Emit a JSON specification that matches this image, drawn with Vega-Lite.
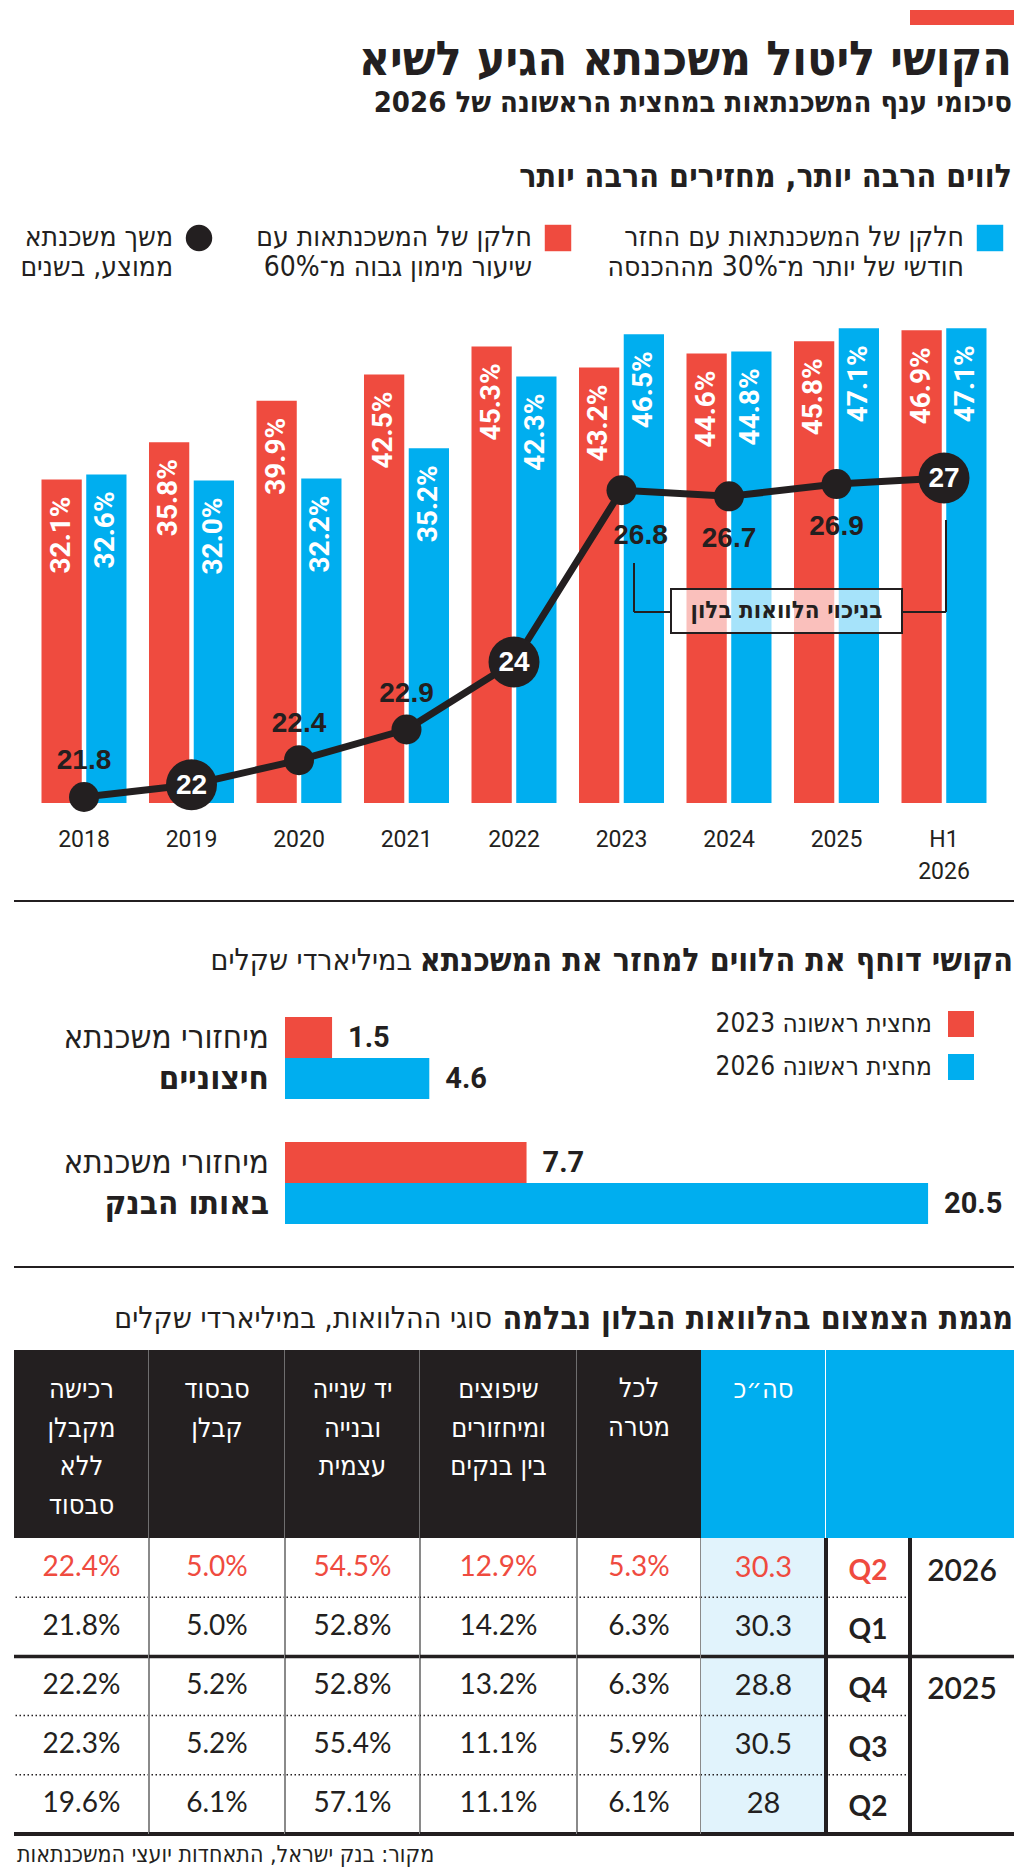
{
"$schema": "https://vega.github.io/schema/vega-lite/v6.json",
"background": "white",
"padding": {"left": 12, "top": 10, "right": 0, "bottom": 0},
"autosize": {"type": "pad"},
"spacing": 0,
"bounds": "flush",
"resolve": {"scale": {"color": "independent", "shape": "independent"}, "legend": {"color": "independent", "shape": "independent"}},
"config": {"view": {"stroke": null}, "axis": {"grid": false}},
"datasets": {
 "shares": [
  {"year": "2018", "series": "חלקן של המשכנתאות עם\nשיעור מימון גבוה מ־60%", "pct": 0.321},
  {"year": "2018", "series": "חלקן של המשכנתאות עם החזר\nחודשי של יותר מ־30% מההכנסה", "pct": 0.326},
  {"year": "2019", "series": "חלקן של המשכנתאות עם\nשיעור מימון גבוה מ־60%", "pct": 0.358},
  {"year": "2019", "series": "חלקן של המשכנתאות עם החזר\nחודשי של יותר מ־30% מההכנסה", "pct": 0.320},
  {"year": "2020", "series": "חלקן של המשכנתאות עם\nשיעור מימון גבוה מ־60%", "pct": 0.399},
  {"year": "2020", "series": "חלקן של המשכנתאות עם החזר\nחודשי של יותר מ־30% מההכנסה", "pct": 0.322},
  {"year": "2021", "series": "חלקן של המשכנתאות עם\nשיעור מימון גבוה מ־60%", "pct": 0.425},
  {"year": "2021", "series": "חלקן של המשכנתאות עם החזר\nחודשי של יותר מ־30% מההכנסה", "pct": 0.352},
  {"year": "2022", "series": "חלקן של המשכנתאות עם\nשיעור מימון גבוה מ־60%", "pct": 0.453},
  {"year": "2022", "series": "חלקן של המשכנתאות עם החזר\nחודשי של יותר מ־30% מההכנסה", "pct": 0.423},
  {"year": "2023", "series": "חלקן של המשכנתאות עם\nשיעור מימון גבוה מ־60%", "pct": 0.432},
  {"year": "2023", "series": "חלקן של המשכנתאות עם החזר\nחודשי של יותר מ־30% מההכנסה", "pct": 0.465},
  {"year": "2024", "series": "חלקן של המשכנתאות עם\nשיעור מימון גבוה מ־60%", "pct": 0.446},
  {"year": "2024", "series": "חלקן של המשכנתאות עם החזר\nחודשי של יותר מ־30% מההכנסה", "pct": 0.448},
  {"year": "2025", "series": "חלקן של המשכנתאות עם\nשיעור מימון גבוה מ־60%", "pct": 0.458},
  {"year": "2025", "series": "חלקן של המשכנתאות עם החזר\nחודשי של יותר מ־30% מההכנסה", "pct": 0.471},
  {"year": "H1 2026", "series": "חלקן של המשכנתאות עם\nשיעור מימון גבוה מ־60%", "pct": 0.469},
  {"year": "H1 2026", "series": "חלקן של המשכנתאות עם החזר\nחודשי של יותר מ־30% מההכנסה", "pct": 0.471}
 ],
 "dur": [
  {"year": "2018", "dur": 21.8, "measure": "משך משכנתא\nממוצע, בשנים"},
  {"year": "2019", "dur": 22, "measure": "משך משכנתא\nממוצע, בשנים"},
  {"year": "2020", "dur": 22.4, "measure": "משך משכנתא\nממוצע, בשנים"},
  {"year": "2021", "dur": 22.9, "measure": "משך משכנתא\nממוצע, בשנים"},
  {"year": "2022", "dur": 24, "measure": "משך משכנתא\nממוצע, בשנים"},
  {"year": "2023", "dur": 26.8, "measure": "משך משכנתא\nממוצע, בשנים"},
  {"year": "2024", "dur": 26.7, "measure": "משך משכנתא\nממוצע, בשנים"},
  {"year": "2025", "dur": 26.9, "measure": "משך משכנתא\nממוצע, בשנים"},
  {"year": "H1 2026", "dur": 27, "measure": "משך משכנתא\nממוצע, בשנים"}
 ],
 "refi": [
  {"kind": "חיצוניים", "period": "מחצית ראשונה 2023", "value": 1.5},
  {"kind": "חיצוניים", "period": "מחצית ראשונה 2026", "value": 4.6},
  {"kind": "באותו הבנק", "period": "מחצית ראשונה 2023", "value": 7.7},
  {"kind": "באותו הבנק", "period": "מחצית ראשונה 2026", "value": 20.5}
 ],
 "table": [
  {"period": "2026 Q2", "year": 2026, "q": "Q2", "total": 30.3, "c5": 0.053, "c4": 0.129, "c3": 0.545, "c2": 0.050, "c1": 0.224},
  {"period": "2026 Q1", "year": 2026, "q": "Q1", "total": 30.3, "c5": 0.063, "c4": 0.142, "c3": 0.528, "c2": 0.050, "c1": 0.218},
  {"period": "2025 Q4", "year": 2025, "q": "Q4", "total": 28.8, "c5": 0.063, "c4": 0.132, "c3": 0.528, "c2": 0.052, "c1": 0.222},
  {"period": "2025 Q3", "year": 2025, "q": "Q3", "total": 30.5, "c5": 0.059, "c4": 0.111, "c3": 0.554, "c2": 0.052, "c1": 0.223},
  {"period": "2025 Q2", "year": 2025, "q": "Q2", "total": 28, "c5": 0.061, "c4": 0.111, "c3": 0.571, "c2": 0.061, "c1": 0.196}
 ]
},
"vconcat": [
 {
  "hconcat": [
   {"width": 896, "height": 15, "data": {"values": [{}]}, "mark": {"type": "text"}, "encoding": {"text": {"value": ""}},
    "title": {"text": "לווים הרבה יותר, מחזירים הרבה יותר", "orient": "bottom", "anchor": "end", "frame": "group", "offset": 137.2, "dx": 102, "baseline": "top", "font": "DejaVu Sans Condensed, DejaVu Sans, sans-serif", "fontSize": 32, "fontWeight": "bold", "color": "#231F20"}},
   {"width": 104, "height": 15, "view": {"fill": "#EF4B3F", "stroke": null}, "data": {"values": [{}]}, "mark": {"type": "text"}, "encoding": {"text": {"value": ""}},
    "title": {"text": "הקושי ליטול משכנתא הגיע לשיא", "subtitle": "סיכומי ענף המשכנתאות במחצית הראשונה של 2026", "orient": "bottom", "anchor": "end", "frame": "group", "offset": 12.4, "dx": -2, "baseline": "top", "font": "DejaVu Sans Condensed, DejaVu Sans, sans-serif", "fontSize": 48, "fontWeight": "bold", "color": "#231F20", "subtitleFont": "DejaVu Sans Condensed, DejaVu Sans, sans-serif", "subtitleFontSize": 29, "subtitleFontWeight": "bold", "subtitleColor": "#231F20", "subtitlePadding": 3.1}}
  ],
  "spacing": 0, "bounds": "flush"
 },
 {"width": 1000, "height": 289, "data": {"values": [{}]}, "mark": {"type": "text"}, "encoding": {"text": {"value": ""}}},
 {
  "width": 1000, "height": 504,
  "encoding": {
   "x": {"field": "year", "type": "nominal", "sort": null,
    "scale": {"domain": ["2018", "2019", "2020", "2021", "2022", "2023", "2024", "2025", "H1 2026"], "paddingInner": 0.2093, "paddingOuter": 0.2558},
    "axis": {"title": null, "domain": false, "ticks": false, "tickSize": 0, "labelAngle": 0, "labelFont": "Roboto, sans-serif", "labelFontSize": 23, "labelColor": "#231F20", "labelPadding": 25, "labelBaseline": "top", "labelLineHeight": 32, "labelExpr": "split(datum.label, ' ')"}}
  },
  "layer": [
   {"data": {"name": "shares"}, "mark": {"type": "bar"},
    "encoding": {
     "xOffset": {"field": "series", "type": "nominal", "sort": null, "scale": {"domain": ["חלקן של המשכנתאות עם\nשיעור מימון גבוה מ־60%", "חלקן של המשכנתאות עם החזר\nחודשי של יותר מ־30% מההכנסה"], "paddingInner": 0.1, "paddingOuter": 0}},
     "y": {"field": "pct", "type": "quantitative", "scale": {"domain": [0, 0.5], "nice": false}, "axis": null},
     "color": {"field": "series", "type": "nominal", "sort": null,
      "scale": {"domain": ["חלקן של המשכנתאות עם\nשיעור מימון גבוה מ־60%", "חלקן של המשכנתאות עם החזר\nחודשי של יותר מ־30% מההכנסה"], "range": ["#EF4B3F", "#00AEEF"]},
      "legend": {"orient": "none", "legendX": 530, "legendY": -75, "direction": "horizontal", "title": null, "symbolType": "square", "symbolSize": 700, "symbolStrokeWidth": 0, "symbolOpacity": 1, "labelAlign": "right", "labelOffset": -40, "labelBaseline": "middle", "labelExpr": "split(datum.label, '\\n')", "labelFont": "DejaVu Sans Condensed, DejaVu Sans, sans-serif", "labelFontSize": 28, "labelColor": "#231F20", "labelLimit": 0, "columnPadding": 35, "padding": 0}}
    }},
   {"data": {"name": "shares"}, "mark": {"type": "text", "angle": 270, "align": "right", "baseline": "middle", "dx": -17, "font": "Roboto, sans-serif", "fontSize": 28, "fontWeight": "bold", "color": "white"},
    "encoding": {
     "xOffset": {"field": "series", "type": "nominal", "sort": null, "scale": {"domain": ["חלקן של המשכנתאות עם\nשיעור מימון גבוה מ־60%", "חלקן של המשכנתאות עם החזר\nחודשי של יותר מ־30% מההכנסה"], "paddingInner": 0.1, "paddingOuter": 0}},
     "y": {"field": "pct", "type": "quantitative", "scale": {"domain": [0, 0.5], "nice": false}, "axis": null},
     "text": {"field": "pct", "type": "quantitative", "format": ".1%"}
    }},
   {"data": {"values": [{}]}, "mark": {"type": "rule", "color": "#231F20", "strokeWidth": 2, "xOffset": 12.5},
    "encoding": {"x": {"datum": "2023", "bandPosition": 0.5}, "y": {"datum": 25.614, "type": "quantitative", "scale": {"domain": [21.702, 29.917], "nice": false, "zero": false}, "axis": null}, "y2": {"datum": 24.815}}},
   {"data": {"values": [{}]}, "mark": {"type": "rule", "color": "#231F20", "strokeWidth": 2, "xOffset": 12.5, "x2Offset": -58},
    "encoding": {"x": {"datum": "2023", "bandPosition": 0.5}, "x2": {"datum": "2024", "bandPosition": 0.5}, "y": {"datum": 24.815, "type": "quantitative", "scale": {"domain": [21.702, 29.917], "nice": false, "zero": false}, "axis": null}}},
   {"data": {"values": [{}]}, "mark": {"type": "rect", "fill": "white", "fillOpacity": 0.65, "stroke": "#231F20", "strokeWidth": 2, "xOffset": -58, "x2Offset": 65.5},
    "encoding": {"x": {"datum": "2024", "bandPosition": 0.5}, "x2": {"datum": "2025", "bandPosition": 0.5}, "y": {"datum": 25.19, "type": "quantitative", "scale": {"domain": [21.702, 29.917], "nice": false, "zero": false}, "axis": null}, "y2": {"datum": 24.473}}},
   {"data": {"values": [{}]}, "mark": {"type": "rule", "color": "#231F20", "strokeWidth": 2, "xOffset": 65.5, "x2Offset": 2},
    "encoding": {"x": {"datum": "2025", "bandPosition": 0.5}, "x2": {"datum": "H1 2026", "bandPosition": 0.5}, "y": {"datum": 24.815, "type": "quantitative", "scale": {"domain": [21.702, 29.917], "nice": false, "zero": false}, "axis": null}}},
   {"data": {"values": [{}]}, "mark": {"type": "rule", "color": "#231F20", "strokeWidth": 2, "xOffset": 2},
    "encoding": {"x": {"datum": "H1 2026", "bandPosition": 0.5}, "y": {"datum": 26.315, "type": "quantitative", "scale": {"domain": [21.702, 29.917], "nice": false, "zero": false}, "axis": null}, "y2": {"datum": 24.815}}},
   {"data": {"values": [{}]}, "mark": {"type": "text", "font": "DejaVu Sans Condensed, DejaVu Sans, sans-serif", "fontSize": 24, "fontWeight": "bold", "color": "#231F20", "dx": 57.5, "baseline": "middle"},
    "encoding": {"x": {"datum": "2024", "bandPosition": 0.5}, "y": {"datum": 24.83, "type": "quantitative", "scale": {"domain": [21.702, 29.917], "nice": false, "zero": false}, "axis": null}, "text": {"value": "בניכוי הלוואות בלון"}}},
   {"data": {"name": "dur"}, "mark": {"type": "line", "color": "#231F20", "strokeWidth": 7, "strokeJoin": "round"},
    "encoding": {"y": {"field": "dur", "type": "quantitative", "scale": {"domain": [21.702, 29.917], "nice": false, "zero": false}, "axis": null}}},
   {"data": {"name": "dur"}, "transform": [{"filter": "datum.dur != floor(datum.dur)"}], "mark": {"type": "point", "filled": true, "size": 900, "opacity": 1, "color": "#231F20"},
    "encoding": {"y": {"field": "dur", "type": "quantitative", "scale": {"domain": [21.702, 29.917], "nice": false, "zero": false}, "axis": null},
     "shape": {"field": "measure", "type": "nominal", "scale": {"domain": ["משך משכנתא\nממוצע, בשנים"], "range": ["circle"]},
      "legend": {"orient": "none", "legendX": 171, "legendY": -75, "direction": "horizontal", "title": null, "symbolSize": 700, "symbolFillColor": "#231F20", "symbolStrokeWidth": 0, "symbolOpacity": 1, "labelAlign": "right", "labelOffset": -40, "labelBaseline": "middle", "labelExpr": "split(datum.label, '\\n')", "labelFont": "DejaVu Sans Condensed, DejaVu Sans, sans-serif", "labelFontSize": 28, "labelColor": "#231F20", "labelLimit": 0, "padding": 0}}}},
   {"data": {"name": "dur"}, "transform": [{"filter": "datum.dur == floor(datum.dur)"}], "mark": {"type": "point", "filled": true, "size": 2600, "opacity": 1, "color": "#231F20"},
    "encoding": {"y": {"field": "dur", "type": "quantitative", "scale": {"domain": [21.702, 29.917], "nice": false, "zero": false}, "axis": null},
     "shape": {"field": "measure", "type": "nominal", "scale": {"domain": ["משך משכנתא\nממוצע, בשנים"], "range": ["circle"]},
      "legend": {"orient": "none", "legendX": 171, "legendY": -75, "direction": "horizontal", "title": null, "symbolSize": 700, "symbolFillColor": "#231F20", "symbolStrokeWidth": 0, "symbolOpacity": 1, "labelAlign": "right", "labelOffset": -40, "labelBaseline": "middle", "labelExpr": "split(datum.label, '\\n')", "labelFont": "DejaVu Sans Condensed, DejaVu Sans, sans-serif", "labelFontSize": 28, "labelColor": "#231F20", "labelLimit": 0, "padding": 0}}}},
   {"data": {"name": "dur"}, "transform": [{"filter": "datum.dur == floor(datum.dur)"}], "mark": {"type": "text", "font": "Liberation Sans, sans-serif", "fontSize": 28, "fontWeight": "bold", "color": "white", "baseline": "middle", "dy": 1},
    "encoding": {"y": {"field": "dur", "type": "quantitative", "scale": {"domain": [21.702, 29.917], "nice": false, "zero": false}, "axis": null}, "text": {"field": "dur", "type": "nominal"}}},
   {"data": {"name": "dur"}, "transform": [{"filter": "datum.dur != floor(datum.dur) && datum.dur < 24"}], "mark": {"type": "text", "font": "Liberation Sans, sans-serif", "fontSize": 28, "fontWeight": "bold", "color": "#231F20", "baseline": "middle", "dy": -36},
    "encoding": {"y": {"field": "dur", "type": "quantitative", "scale": {"domain": [21.702, 29.917], "nice": false, "zero": false}, "axis": null}, "text": {"field": "dur", "type": "nominal"}}},
   {"data": {"name": "dur"}, "transform": [{"filter": "datum.dur != floor(datum.dur) && datum.dur > 24 && datum.year != '2023'"}], "mark": {"type": "text", "font": "Liberation Sans, sans-serif", "fontSize": 28, "fontWeight": "bold", "color": "#231F20", "baseline": "middle", "dy": 43},
    "encoding": {"y": {"field": "dur", "type": "quantitative", "scale": {"domain": [21.702, 29.917], "nice": false, "zero": false}, "axis": null}, "text": {"field": "dur", "type": "nominal"}}},
   {"data": {"name": "dur"}, "transform": [{"filter": "datum.year == '2023'"}], "mark": {"type": "text", "font": "Liberation Sans, sans-serif", "fontSize": 28, "fontWeight": "bold", "color": "#231F20", "baseline": "middle", "dy": 46, "dx": 19},
    "encoding": {"y": {"field": "dur", "type": "quantitative", "scale": {"domain": [21.702, 29.917], "nice": false, "zero": false}, "axis": null}, "text": {"field": "dur", "type": "nominal"}}}
  ],
  "resolve": {"scale": {"y": "independent"}}
 },
 {"width": 1000, "height": 97, "data": {"values": [{}]}, "mark": {"type": "text"}, "encoding": {"text": {"value": ""}}},
 {"width": 1000, "height": 1, "view": {"fill": "#231F20", "stroke": null}, "data": {"values": [{}]}, "mark": {"type": "text"}, "encoding": {"text": {"value": ""}},
  "title": {"text": "במיליארדי שקלים", "orient": "bottom", "anchor": "end", "frame": "group", "offset": 40.2, "dx": -602, "baseline": "top", "font": "DejaVu Sans Condensed, DejaVu Sans, sans-serif", "fontSize": 30, "fontWeight": "normal", "color": "#231F20"}},
 {"width": 1000, "height": 1, "view": {"fill": "#231F20", "stroke": null}, "data": {"values": [{}]}, "mark": {"type": "text"}, "encoding": {"text": {"value": ""}},
  "title": {"text": "הקושי דוחף את הלווים למחזר את המשכנתא", "orient": "bottom", "anchor": "end", "frame": "group", "offset": 39.2, "dx": -1, "baseline": "top", "font": "DejaVu Sans Condensed, DejaVu Sans, sans-serif", "fontSize": 32, "fontWeight": "bold", "color": "#231F20"}},
 {
  "width": 1000, "height": 364,
  "data": {"name": "refi"},
  "encoding": {
   "y": {"field": "kind", "type": "nominal", "sort": null, "scale": {"domain": ["חיצוניים", "באותו הבנק"], "paddingInner": 0.344, "paddingOuter": 0.628, "align": 0.7325}, "axis": null},
   "yOffset": {"field": "period", "type": "nominal", "sort": null, "scale": {"domain": ["מחצית ראשונה 2023", "מחצית ראשונה 2026"], "paddingInner": 0, "paddingOuter": 0}}
  },
  "layer": [
   {"mark": {"type": "bar"},
    "encoding": {
     "x": {"field": "value", "type": "quantitative", "scale": {"domain": [-8.639, 23.239], "nice": false}, "axis": null},
     "color": {"field": "period", "type": "nominal", "sort": null, "scale": {"domain": ["מחצית ראשונה 2023", "מחצית ראשונה 2026"], "range": ["#EF4B3F", "#00AEEF"]},
      "legend": {"orient": "none", "legendX": 934, "legendY": 109, "direction": "vertical", "title": null, "symbolType": "square", "symbolSize": 676, "symbolStrokeWidth": 0, "symbolOpacity": 1, "labelAlign": "right", "labelOffset": -42, "labelBaseline": "middle", "labelFont": "DejaVu Sans Condensed, DejaVu Sans, sans-serif", "labelFontSize": 26, "labelColor": "#231F20", "labelLimit": 0, "rowPadding": 17, "padding": 0}}
    }},
   {"mark": {"type": "text", "align": "left", "baseline": "middle", "dx": 16, "font": "Roboto, sans-serif", "fontSize": 29, "fontWeight": "bold", "color": "#231F20"},
    "encoding": {"x": {"field": "value", "type": "quantitative", "scale": {"domain": [-8.639, 23.239], "nice": false}, "axis": null}, "text": {"field": "value", "type": "nominal"}}},
   {"transform": [{"filter": "indexof(datum.period, '2023') >= 0"}],
    "mark": {"type": "text", "align": "right", "baseline": "middle", "dx": -16, "font": "DejaVu Sans Condensed, DejaVu Sans, sans-serif", "fontSize": 33, "fontWeight": "normal", "color": "#231F20"},
    "encoding": {"x": {"datum": 0, "type": "quantitative", "scale": {"domain": [-8.639, 23.239], "nice": false}, "axis": null}, "text": {"value": "מיחזורי משכנתא"}}},
   {"transform": [{"filter": "indexof(datum.period, '2026') >= 0"}],
    "mark": {"type": "text", "align": "right", "baseline": "middle", "dx": -16, "font": "DejaVu Sans Condensed, DejaVu Sans, sans-serif", "fontSize": 33, "fontWeight": "bold", "color": "#231F20"},
    "encoding": {"x": {"datum": 0, "type": "quantitative", "scale": {"domain": [-8.639, 23.239], "nice": false}, "axis": null}, "text": {"field": "kind", "type": "nominal"}}}
  ]
 },
 {"width": 1000, "height": 1, "view": {"fill": "#231F20", "stroke": null}, "data": {"values": [{}]}, "mark": {"type": "text"}, "encoding": {"text": {"value": ""}},
  "title": {"text": "סוגי ההלוואות, במיליארדי שקלים", "orient": "bottom", "anchor": "end", "frame": "group", "offset": 32.2, "dx": -522, "baseline": "top", "font": "DejaVu Sans Condensed, DejaVu Sans, sans-serif", "fontSize": 30, "fontWeight": "normal", "color": "#231F20"}},
 {"width": 1000, "height": 1, "view": {"fill": "#231F20", "stroke": null}, "data": {"values": [{}]}, "mark": {"type": "text"}, "encoding": {"text": {"value": ""}},
  "title": {"text": "מגמת הצמצום בהלוואות הבלון נבלמה", "orient": "bottom", "anchor": "end", "frame": "group", "offset": 31.2, "dx": -1, "baseline": "top", "font": "DejaVu Sans Condensed, DejaVu Sans, sans-serif", "fontSize": 32, "fontWeight": "bold", "color": "#231F20"}},
 {"width": 1000, "height": 82, "data": {"values": [{}]}, "mark": {"type": "text"}, "encoding": {"text": {"value": ""}}},
 {
  "hconcat": [
   {"width": 135, "height": 188, "view": {"fill": "#231F20", "stroke": null}, "data": {"values": [{}]}, "mark": {"type": "rule", "color": "#8a8a8a", "strokeWidth": 1.5}, "encoding": {"x": {"value": "width"}},
    "title": {"text": ["רכישה", "מקבלן", "ללא", "סבסוד"], "orient": "bottom", "anchor": "middle", "frame": "group", "offset": -161.6, "baseline": "top", "lineHeight": 38.5, "color": "white", "font": "DejaVu Sans Condensed, DejaVu Sans, sans-serif", "fontSize": 27, "fontWeight": "normal"}},
   {"width": 136, "height": 188, "view": {"fill": "#231F20", "stroke": null}, "data": {"values": [{}]}, "mark": {"type": "rule", "color": "#8a8a8a", "strokeWidth": 1.5}, "encoding": {"x": {"value": "width"}},
    "title": {"text": ["סבסוד", "קבלן"], "orient": "bottom", "anchor": "middle", "frame": "group", "offset": -161.6, "baseline": "top", "lineHeight": 38.5, "color": "white", "font": "DejaVu Sans Condensed, DejaVu Sans, sans-serif", "fontSize": 27, "fontWeight": "normal"}},
   {"width": 135, "height": 188, "view": {"fill": "#231F20", "stroke": null}, "data": {"values": [{}]}, "mark": {"type": "rule", "color": "#8a8a8a", "strokeWidth": 1.5}, "encoding": {"x": {"value": "width"}},
    "title": {"text": ["יד שנייה", "ובנייה", "עצמית"], "orient": "bottom", "anchor": "middle", "frame": "group", "offset": -161.6, "baseline": "top", "lineHeight": 38.5, "color": "white", "font": "DejaVu Sans Condensed, DejaVu Sans, sans-serif", "fontSize": 27, "fontWeight": "normal"}},
   {"width": 157, "height": 188, "view": {"fill": "#231F20", "stroke": null}, "data": {"values": [{}]}, "mark": {"type": "rule", "color": "#8a8a8a", "strokeWidth": 1.5}, "encoding": {"x": {"value": "width"}},
    "title": {"text": ["שיפוצים", "ומיחזורים", "בין בנקים"], "orient": "bottom", "anchor": "middle", "frame": "group", "offset": -161.6, "baseline": "top", "lineHeight": 38.5, "color": "white", "font": "DejaVu Sans Condensed, DejaVu Sans, sans-serif", "fontSize": 27, "fontWeight": "normal"}},
   {"width": 124, "height": 188, "view": {"fill": "#231F20", "stroke": null}, "data": {"values": [{}]}, "mark": {"type": "text"}, "encoding": {"text": {"value": ""}},
    "title": {"text": ["לכל", "מטרה"], "orient": "bottom", "anchor": "middle", "frame": "group", "offset": -161.6, "baseline": "top", "lineHeight": 38.5, "color": "white", "font": "DejaVu Sans Condensed, DejaVu Sans, sans-serif", "fontSize": 27, "fontWeight": "normal"}},
   {"width": 125, "height": 188, "view": {"fill": "#00AEEF", "stroke": null}, "data": {"values": [{}]}, "mark": {"type": "rule", "color": "white", "strokeWidth": 2}, "encoding": {"x": {"value": "width"}},
    "title": {"text": ["סה״כ"], "orient": "bottom", "anchor": "middle", "frame": "group", "offset": -161.6, "baseline": "top", "lineHeight": 38.5, "color": "white", "font": "DejaVu Sans Condensed, DejaVu Sans, sans-serif", "fontSize": 27, "fontWeight": "normal"}},
   {"width": 188, "height": 188, "view": {"fill": "#00AEEF", "stroke": null}, "data": {"values": [{}]}, "mark": {"type": "text"}, "encoding": {"text": {"value": ""}}}
  ],
  "spacing": 0, "bounds": "flush"
 },
 {"width": 1000, "height": 188, "data": {"values": [{}]}, "mark": {"type": "text"}, "encoding": {"text": {"value": ""}}},
 {
  "hconcat": [
   {"width": 135, "height": 296, "data": {"name": "table"},
    "transform": [{"window": [{"op": "row_number", "as": "rank"}], "groupby": ["year"]}, {"joinaggregate": [{"op": "max", "field": "year", "as": "maxYear"}]}],
    "layer": [
     {"mark": {"type": "text", "font": "Lato, sans-serif", "fontSize": 28, "baseline": "middle"},
      "encoding": {"y": {"field": "period", "type": "nominal", "scale": {"domain": ["2026 Q2", "2026 Q1", "2025 Q4", "2025 Q3", "2025 Q2"], "paddingInner": 0, "paddingOuter": 0}, "axis": null}, "text": {"field": "c1", "type": "quantitative", "format": ".1%"}, "color": {"condition": {"test": "datum.rank == 1 && datum.year == datum.maxYear", "value": "#EF4B3F"}, "value": "#231F20"}}},
     {"transform": [{"filter": "datum.rank > 1"}], "mark": {"type": "rule", "color": "#231F20", "strokeWidth": 1.5, "strokeDash": [1.5, 2.5]},
      "encoding": {"y": {"field": "period", "type": "nominal", "bandPosition": 0, "scale": {"domain": ["2026 Q2", "2026 Q1", "2025 Q4", "2025 Q3", "2025 Q2"], "paddingInner": 0, "paddingOuter": 0}, "axis": null}}},
     {"transform": [{"filter": "datum.rank == 1 && datum.year < datum.maxYear"}], "mark": {"type": "rule", "color": "#231F20", "strokeWidth": 3.5},
      "encoding": {"y": {"field": "period", "type": "nominal", "bandPosition": 0, "scale": {"domain": ["2026 Q2", "2026 Q1", "2025 Q4", "2025 Q3", "2025 Q2"], "paddingInner": 0, "paddingOuter": 0}, "axis": null}}},
     {"mark": {"type": "rule", "color": "#231F20", "strokeWidth": 3.5}, "encoding": {"y": {"value": "height"}}},
     {"mark": {"type": "rule", "color": "#8a8a8a", "strokeWidth": 1.5}, "encoding": {"x": {"value": "width"}}}
    ]},
   {"width": 136, "height": 296, "data": {"name": "table"},
    "transform": [{"window": [{"op": "row_number", "as": "rank"}], "groupby": ["year"]}, {"joinaggregate": [{"op": "max", "field": "year", "as": "maxYear"}]}],
    "layer": [
     {"mark": {"type": "text", "font": "Lato, sans-serif", "fontSize": 28, "baseline": "middle"},
      "encoding": {"y": {"field": "period", "type": "nominal", "scale": {"domain": ["2026 Q2", "2026 Q1", "2025 Q4", "2025 Q3", "2025 Q2"], "paddingInner": 0, "paddingOuter": 0}, "axis": null}, "text": {"field": "c2", "type": "quantitative", "format": ".1%"}, "color": {"condition": {"test": "datum.rank == 1 && datum.year == datum.maxYear", "value": "#EF4B3F"}, "value": "#231F20"}}},
     {"transform": [{"filter": "datum.rank > 1"}], "mark": {"type": "rule", "color": "#231F20", "strokeWidth": 1.5, "strokeDash": [1.5, 2.5]},
      "encoding": {"y": {"field": "period", "type": "nominal", "bandPosition": 0, "scale": {"domain": ["2026 Q2", "2026 Q1", "2025 Q4", "2025 Q3", "2025 Q2"], "paddingInner": 0, "paddingOuter": 0}, "axis": null}}},
     {"transform": [{"filter": "datum.rank == 1 && datum.year < datum.maxYear"}], "mark": {"type": "rule", "color": "#231F20", "strokeWidth": 3.5},
      "encoding": {"y": {"field": "period", "type": "nominal", "bandPosition": 0, "scale": {"domain": ["2026 Q2", "2026 Q1", "2025 Q4", "2025 Q3", "2025 Q2"], "paddingInner": 0, "paddingOuter": 0}, "axis": null}}},
     {"mark": {"type": "rule", "color": "#231F20", "strokeWidth": 3.5}, "encoding": {"y": {"value": "height"}}},
     {"mark": {"type": "rule", "color": "#8a8a8a", "strokeWidth": 1.5}, "encoding": {"x": {"value": "width"}}}
    ]},
   {"width": 135, "height": 296, "data": {"name": "table"},
    "transform": [{"window": [{"op": "row_number", "as": "rank"}], "groupby": ["year"]}, {"joinaggregate": [{"op": "max", "field": "year", "as": "maxYear"}]}],
    "layer": [
     {"mark": {"type": "text", "font": "Lato, sans-serif", "fontSize": 28, "baseline": "middle"},
      "encoding": {"y": {"field": "period", "type": "nominal", "scale": {"domain": ["2026 Q2", "2026 Q1", "2025 Q4", "2025 Q3", "2025 Q2"], "paddingInner": 0, "paddingOuter": 0}, "axis": null}, "text": {"field": "c3", "type": "quantitative", "format": ".1%"}, "color": {"condition": {"test": "datum.rank == 1 && datum.year == datum.maxYear", "value": "#EF4B3F"}, "value": "#231F20"}}},
     {"transform": [{"filter": "datum.rank > 1"}], "mark": {"type": "rule", "color": "#231F20", "strokeWidth": 1.5, "strokeDash": [1.5, 2.5]},
      "encoding": {"y": {"field": "period", "type": "nominal", "bandPosition": 0, "scale": {"domain": ["2026 Q2", "2026 Q1", "2025 Q4", "2025 Q3", "2025 Q2"], "paddingInner": 0, "paddingOuter": 0}, "axis": null}}},
     {"transform": [{"filter": "datum.rank == 1 && datum.year < datum.maxYear"}], "mark": {"type": "rule", "color": "#231F20", "strokeWidth": 3.5},
      "encoding": {"y": {"field": "period", "type": "nominal", "bandPosition": 0, "scale": {"domain": ["2026 Q2", "2026 Q1", "2025 Q4", "2025 Q3", "2025 Q2"], "paddingInner": 0, "paddingOuter": 0}, "axis": null}}},
     {"mark": {"type": "rule", "color": "#231F20", "strokeWidth": 3.5}, "encoding": {"y": {"value": "height"}}},
     {"mark": {"type": "rule", "color": "#8a8a8a", "strokeWidth": 1.5}, "encoding": {"x": {"value": "width"}}}
    ]},
   {"width": 157, "height": 296, "data": {"name": "table"},
    "transform": [{"window": [{"op": "row_number", "as": "rank"}], "groupby": ["year"]}, {"joinaggregate": [{"op": "max", "field": "year", "as": "maxYear"}]}],
    "layer": [
     {"mark": {"type": "text", "font": "Lato, sans-serif", "fontSize": 28, "baseline": "middle"},
      "encoding": {"y": {"field": "period", "type": "nominal", "scale": {"domain": ["2026 Q2", "2026 Q1", "2025 Q4", "2025 Q3", "2025 Q2"], "paddingInner": 0, "paddingOuter": 0}, "axis": null}, "text": {"field": "c4", "type": "quantitative", "format": ".1%"}, "color": {"condition": {"test": "datum.rank == 1 && datum.year == datum.maxYear", "value": "#EF4B3F"}, "value": "#231F20"}}},
     {"transform": [{"filter": "datum.rank > 1"}], "mark": {"type": "rule", "color": "#231F20", "strokeWidth": 1.5, "strokeDash": [1.5, 2.5]},
      "encoding": {"y": {"field": "period", "type": "nominal", "bandPosition": 0, "scale": {"domain": ["2026 Q2", "2026 Q1", "2025 Q4", "2025 Q3", "2025 Q2"], "paddingInner": 0, "paddingOuter": 0}, "axis": null}}},
     {"transform": [{"filter": "datum.rank == 1 && datum.year < datum.maxYear"}], "mark": {"type": "rule", "color": "#231F20", "strokeWidth": 3.5},
      "encoding": {"y": {"field": "period", "type": "nominal", "bandPosition": 0, "scale": {"domain": ["2026 Q2", "2026 Q1", "2025 Q4", "2025 Q3", "2025 Q2"], "paddingInner": 0, "paddingOuter": 0}, "axis": null}}},
     {"mark": {"type": "rule", "color": "#231F20", "strokeWidth": 3.5}, "encoding": {"y": {"value": "height"}}},
     {"mark": {"type": "rule", "color": "#8a8a8a", "strokeWidth": 1.5}, "encoding": {"x": {"value": "width"}}}
    ]},
   {"width": 124, "height": 296, "data": {"name": "table"},
    "transform": [{"window": [{"op": "row_number", "as": "rank"}], "groupby": ["year"]}, {"joinaggregate": [{"op": "max", "field": "year", "as": "maxYear"}]}],
    "layer": [
     {"mark": {"type": "text", "font": "Lato, sans-serif", "fontSize": 28, "baseline": "middle"},
      "encoding": {"y": {"field": "period", "type": "nominal", "scale": {"domain": ["2026 Q2", "2026 Q1", "2025 Q4", "2025 Q3", "2025 Q2"], "paddingInner": 0, "paddingOuter": 0}, "axis": null}, "text": {"field": "c5", "type": "quantitative", "format": ".1%"}, "color": {"condition": {"test": "datum.rank == 1 && datum.year == datum.maxYear", "value": "#EF4B3F"}, "value": "#231F20"}}},
     {"transform": [{"filter": "datum.rank > 1"}], "mark": {"type": "rule", "color": "#231F20", "strokeWidth": 1.5, "strokeDash": [1.5, 2.5]},
      "encoding": {"y": {"field": "period", "type": "nominal", "bandPosition": 0, "scale": {"domain": ["2026 Q2", "2026 Q1", "2025 Q4", "2025 Q3", "2025 Q2"], "paddingInner": 0, "paddingOuter": 0}, "axis": null}}},
     {"transform": [{"filter": "datum.rank == 1 && datum.year < datum.maxYear"}], "mark": {"type": "rule", "color": "#231F20", "strokeWidth": 3.5},
      "encoding": {"y": {"field": "period", "type": "nominal", "bandPosition": 0, "scale": {"domain": ["2026 Q2", "2026 Q1", "2025 Q4", "2025 Q3", "2025 Q2"], "paddingInner": 0, "paddingOuter": 0}, "axis": null}}},
     {"mark": {"type": "rule", "color": "#231F20", "strokeWidth": 3.5}, "encoding": {"y": {"value": "height"}}},
     {"mark": {"type": "rule", "color": "#8a8a8a", "strokeWidth": 1.5}, "encoding": {"x": {"value": "width"}}}
    ]},
   {"width": 125, "height": 296, "view": {"fill": "#E1F3FC", "stroke": null}, "data": {"name": "table"},
    "transform": [{"window": [{"op": "row_number", "as": "rank"}], "groupby": ["year"]}, {"joinaggregate": [{"op": "max", "field": "year", "as": "maxYear"}]}],
    "layer": [
     {"mark": {"type": "text", "font": "Lato, sans-serif", "fontSize": 29, "baseline": "middle"},
      "encoding": {"y": {"field": "period", "type": "nominal", "scale": {"domain": ["2026 Q2", "2026 Q1", "2025 Q4", "2025 Q3", "2025 Q2"], "paddingInner": 0, "paddingOuter": 0}, "axis": null}, "text": {"field": "total", "type": "nominal"}, "color": {"condition": {"test": "datum.rank == 1 && datum.year == datum.maxYear", "value": "#EF4B3F"}, "value": "#231F20"}}},
     {"transform": [{"filter": "datum.rank > 1"}], "mark": {"type": "rule", "color": "#231F20", "strokeWidth": 1.5, "strokeDash": [1.5, 2.5]},
      "encoding": {"y": {"field": "period", "type": "nominal", "bandPosition": 0, "scale": {"domain": ["2026 Q2", "2026 Q1", "2025 Q4", "2025 Q3", "2025 Q2"], "paddingInner": 0, "paddingOuter": 0}, "axis": null}}},
     {"transform": [{"filter": "datum.rank == 1 && datum.year < datum.maxYear"}], "mark": {"type": "rule", "color": "#231F20", "strokeWidth": 3.5},
      "encoding": {"y": {"field": "period", "type": "nominal", "bandPosition": 0, "scale": {"domain": ["2026 Q2", "2026 Q1", "2025 Q4", "2025 Q3", "2025 Q2"], "paddingInner": 0, "paddingOuter": 0}, "axis": null}}},
     {"mark": {"type": "rule", "color": "#231F20", "strokeWidth": 3.5}, "encoding": {"y": {"value": "height"}}},
     {"mark": {"type": "rule", "color": "#231F20", "strokeWidth": 3.5}, "encoding": {"x": {"value": "width"}}}
    ]},
   {"width": 84, "height": 296, "data": {"name": "table"},
    "transform": [{"window": [{"op": "row_number", "as": "rank"}], "groupby": ["year"]}, {"joinaggregate": [{"op": "max", "field": "year", "as": "maxYear"}]}],
    "layer": [
     {"mark": {"type": "text", "font": "Lato, sans-serif", "fontSize": 28, "fontWeight": "bold", "baseline": "middle", "dy": 4},
      "encoding": {"y": {"field": "period", "type": "nominal", "scale": {"domain": ["2026 Q2", "2026 Q1", "2025 Q4", "2025 Q3", "2025 Q2"], "paddingInner": 0, "paddingOuter": 0}, "axis": null}, "text": {"field": "q", "type": "nominal"}, "color": {"condition": {"test": "datum.rank == 1 && datum.year == datum.maxYear", "value": "#EF4B3F"}, "value": "#231F20"}}},
     {"transform": [{"filter": "datum.rank > 1"}], "mark": {"type": "rule", "color": "#231F20", "strokeWidth": 1.5, "strokeDash": [1.5, 2.5]},
      "encoding": {"y": {"field": "period", "type": "nominal", "bandPosition": 0, "scale": {"domain": ["2026 Q2", "2026 Q1", "2025 Q4", "2025 Q3", "2025 Q2"], "paddingInner": 0, "paddingOuter": 0}, "axis": null}}},
     {"transform": [{"filter": "datum.rank == 1 && datum.year < datum.maxYear"}], "mark": {"type": "rule", "color": "#231F20", "strokeWidth": 3.5},
      "encoding": {"y": {"field": "period", "type": "nominal", "bandPosition": 0, "scale": {"domain": ["2026 Q2", "2026 Q1", "2025 Q4", "2025 Q3", "2025 Q2"], "paddingInner": 0, "paddingOuter": 0}, "axis": null}}},
     {"mark": {"type": "rule", "color": "#231F20", "strokeWidth": 3.5}, "encoding": {"y": {"value": "height"}}},
     {"mark": {"type": "rule", "color": "#231F20", "strokeWidth": 3.5}, "encoding": {"x": {"value": "width"}}}
    ]},
   {"width": 104, "height": 296, "data": {"name": "table"},
    "transform": [{"window": [{"op": "row_number", "as": "rank"}], "groupby": ["year"]}, {"joinaggregate": [{"op": "max", "field": "year", "as": "maxYear"}]}],
    "layer": [
     {"transform": [{"filter": "datum.rank == 1"}], "mark": {"type": "text", "font": "Lato, sans-serif", "fontSize": 30, "fontWeight": 600, "baseline": "middle", "color": "#231F20", "dy": 4},
      "encoding": {"y": {"field": "period", "type": "nominal", "scale": {"domain": ["2026 Q2", "2026 Q1", "2025 Q4", "2025 Q3", "2025 Q2"], "paddingInner": 0, "paddingOuter": 0}, "axis": null}, "text": {"field": "year", "type": "nominal"}}},
     {"transform": [{"filter": "datum.rank == 1 && datum.year < datum.maxYear"}], "mark": {"type": "rule", "color": "#231F20", "strokeWidth": 3.5},
      "encoding": {"y": {"field": "period", "type": "nominal", "bandPosition": 0, "scale": {"domain": ["2026 Q2", "2026 Q1", "2025 Q4", "2025 Q3", "2025 Q2"], "paddingInner": 0, "paddingOuter": 0}, "axis": null}}},
     {"mark": {"type": "rule", "color": "#231F20", "strokeWidth": 3.5}, "encoding": {"y": {"value": "height"}}}
    ]}
  ],
  "spacing": 0, "bounds": "flush",
  "title": {"text": "מקור: בנק ישראל, התאחדות יועצי המשכנתאות", "orient": "bottom", "anchor": "start", "frame": "group", "offset": 8, "dx": 3, "baseline": "top", "font": "DejaVu Sans Condensed, DejaVu Sans, sans-serif", "fontSize": 23, "fontWeight": "normal", "color": "#231F20"}
 }
]
}
